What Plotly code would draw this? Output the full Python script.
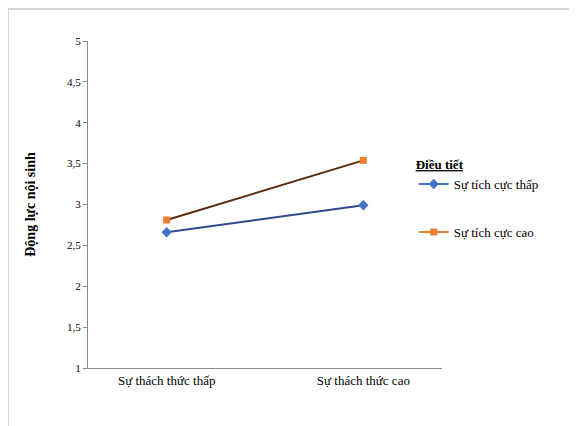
import plotly.graph_objects as go

categories = ['Sự thách thức thấp', 'Sự thách thức cao']
low_active = [2.66, 2.99]
high_active = [2.81, 3.54]
y_ticks = [1, 1.5, 2, 2.5, 3, 3.5, 4, 4.5, 5]
y_labels = ['1', '1,5', '2', '2,5', '3', '3,5', '4', '4,5', '5']

font = 'Liberation Serif'
fig = go.Figure()

series = [
    ('Sự tích cực thấp', low_active, '#2d4b8e', '#4472c4', 'diamond', 8),
    ('Sự tích cực cao', high_active, '#5a2a0e', '#ed7d31', 'square', 7),
]
for name, vals, line_col, mark_col, sym, size in series:
    fig.add_trace(go.Scatter(
        x=[0, 1], y=vals, mode='lines+markers', showlegend=False,
        line=dict(color=line_col, width=2),
        marker=dict(color=mark_col, symbol=sym, size=size)))
    # legend entry drawn in the marker colour
    fig.add_trace(go.Scatter(
        x=[None], y=[None], mode='lines+markers', name=name,
        legendgroup=name,
        line=dict(color=mark_col, width=2),
        marker=dict(color=mark_col, symbol=sym, size=size)))

fig.update_layout(
    width=577, height=426,
    margin=dict(l=80, r=143, t=33, b=66),
    paper_bgcolor='white', plot_bgcolor='white',
    font=dict(family=font, size=12, color='black'),
    legend=dict(
        x=0.92, y=0.66, xanchor='left', yanchor='top',
        title=dict(text='<u><b>Điều tiết</b></u>', side='top', font=dict(size=13)),
        font=dict(size=13), tracegroupgap=28, bgcolor='rgba(0,0,0,0)'),
    xaxis=dict(range=[-0.4, 1.4], tickvals=[0, 1], ticktext=categories,
               showline=True, linecolor='#888', ticks='', showgrid=False,
               zeroline=False, tickfont=dict(size=13)),
    yaxis=dict(range=[1, 5], tickvals=y_ticks, ticktext=y_labels,
               showline=True, linecolor='#888', ticks='outside', ticklen=4,
               tickcolor='#888', showgrid=False, zeroline=False,
               tickfont=dict(size=11),
               title=dict(text='<b>Động lực nội sinh</b>', font=dict(size=14), standoff=28)),
    shapes=[dict(type='rect', xref='paper', yref='paper',
                 x0=-80/354, x1=(577 - 80) / 354 - 0.003,
                 y0=-66/327 + 0.003, y1=1 + 33/327 - 0.003,
                 line=dict(color='#aaa', width=1))],
)

fig.write_html('out.html')
